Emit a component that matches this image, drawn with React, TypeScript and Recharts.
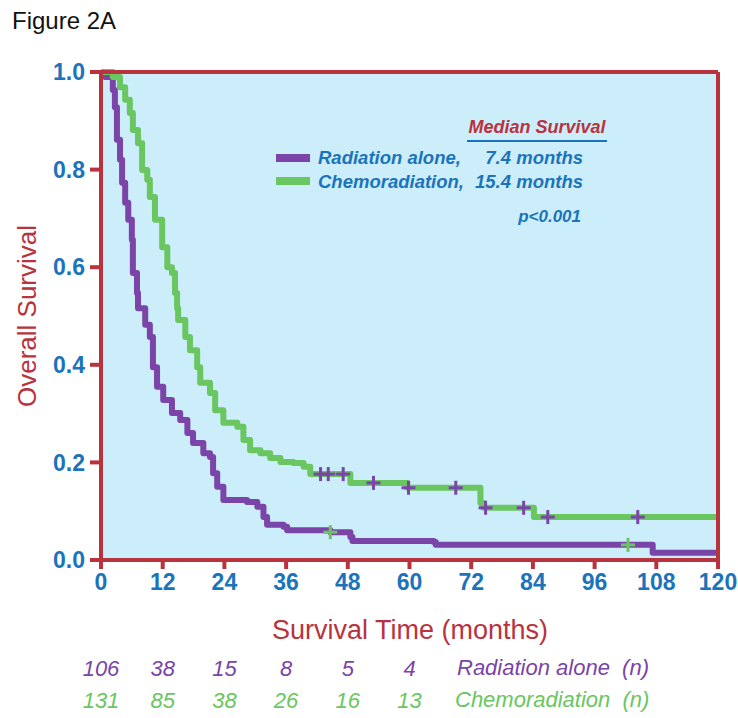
import React from "react";
import {
  CartesianGrid,
  ComposedChart,
  Line,
  ReferenceLine,
  Scatter,
  XAxis,
  YAxis,
} from "recharts";

// Kaplan-Meier curves: [months, survival]
const radiationCurve = [
  [0, 1.0], [0.8, 0.99], [2.3, 0.963], [2.7, 0.928], [3.1, 0.861], [3.7, 0.82],
  [4.1, 0.773], [4.7, 0.732], [5.3, 0.697], [6.0, 0.656], [6.2, 0.588], [7.0, 0.547],
  [7.2, 0.516], [8.6, 0.482], [9.5, 0.457], [10.1, 0.395], [10.9, 0.355], [12.1, 0.328],
  [13.8, 0.301], [15.4, 0.287], [16.8, 0.26], [17.9, 0.24], [19.9, 0.219], [21.2, 0.211],
  [21.8, 0.178], [22.6, 0.15], [23.8, 0.123], [28.4, 0.119], [30.4, 0.109], [31.6, 0.088],
  [32.3, 0.072], [35.5, 0.068], [36.2, 0.061], [44.6, 0.057], [48.5, 0.047], [48.9, 0.039],
  [64.7, 0.037], [65.1, 0.031], [107.3, 0.015], [120, 0.015],
];

const chemoCurve = [
  [0, 1.0], [2.3, 0.99], [3.7, 0.969], [4.7, 0.943], [5.6, 0.916], [6.2, 0.881],
  [7.2, 0.854], [8.0, 0.799], [9.0, 0.779], [9.5, 0.744], [10.5, 0.697], [11.9, 0.641],
  [12.9, 0.6], [13.8, 0.588], [14.4, 0.547], [14.8, 0.516], [15.0, 0.492], [16.4, 0.457],
  [17.3, 0.43], [18.7, 0.395], [19.3, 0.363], [21.2, 0.342], [22.2, 0.307], [23.8, 0.281],
  [26.5, 0.273], [27.7, 0.246], [29.0, 0.225], [31.0, 0.219], [32.9, 0.209], [34.9, 0.201],
  [37.4, 0.199], [39.4, 0.191], [40.7, 0.176], [48.5, 0.158], [59.6, 0.148], [73.8, 0.117],
  [74.4, 0.107], [84.2, 0.088], [120, 0.088],
];

// censored observations
const radiationCensored = [
  [44.6, 0.057], [102.5, 0.031],
];
const chemoCensored = [
  [42.7, 0.176], [44.2, 0.176], [47.1, 0.176], [53.0, 0.158], [59.8, 0.148],
  [69.0, 0.148], [74.8, 0.107], [82.2, 0.107], [86.9, 0.088], [104.4, 0.088],
];

// numbers at risk
const riskMonths = [0, 12, 24, 36, 48, 60];
const radiationAtRisk = [106, 38, 15, 8, 5, 4];
const chemoAtRisk = [131, 85, 38, 26, 16, 13];

const xTicks = [0, 12, 24, 36, 48, 60, 72, 84, 96, 108, 120];
const yTicks = [0, 0.2, 0.4, 0.6, 0.8, 1.0];

const RED = "#b8333d";
const BLUE = "#1b74bb";
const PURPLE = "#7a44a8";
const GREEN = "#69c660";
const BG = "#ccedfa";
const NARROW = "'Liberation Sans Narrow', 'Arial Narrow', 'Liberation Sans', sans-serif";
const SANS = "'Liberation Sans', Arial, sans-serif";

const toPoints = (rows: number[][]) => rows.map(([t, s]) => ({ t, s }));

const plus = (color: string) => (props: any) => {
  const { cx, cy } = props;
  return (
    <g stroke={color} strokeWidth={3}>
      <line x1={cx - 7} y1={cy} x2={cx + 7} y2={cy} />
      <line x1={cx} y1={cy - 7} x2={cx} y2={cy + 7} />
    </g>
  );
};

function XTick(props: any) {
  const { x, y, payload } = props;
  const i = riskMonths.indexOf(payload.value);
  return (
    <g>
      <text x={x} y={y + 19} textAnchor="middle" fill={BLUE} fontFamily={NARROW}
        fontWeight="bold" fontSize={23}>
        {payload.value}
      </text>
      {i >= 0 && (
        <>
          <text x={x} y={y + 105} textAnchor="middle" fill={PURPLE} fontFamily={SANS}
            fontStyle="italic" fontSize={22}>
            {radiationAtRisk[i]}
          </text>
          <text x={x} y={y + 137} textAnchor="middle" fill={GREEN} fontFamily={SANS}
            fontStyle="italic" fontSize={22}>
            {chemoAtRisk[i]}
          </text>
        </>
      )}
    </g>
  );
}

const abs = (style: React.CSSProperties): React.CSSProperties => ({
  position: "absolute",
  whiteSpace: "nowrap",
  lineHeight: 1,
  ...style,
});

export default function App() {
  return (
    <div style={{ position: "absolute", left: 0, top: 0, width: 738, height: 718, background: "#fff" }}>
      <ComposedChart
        width={738}
        height={718}
        margin={{ top: 72, right: 20, bottom: 0, left: 0 }}
      >
        <CartesianGrid horizontal={false} vertical={false} fill={BG} />
        <XAxis
          dataKey="t"
          type="number"
          domain={[0, 120]}
          ticks={xTicks}
          interval={0}
          height={158}
          axisLine={{ stroke: RED, strokeWidth: 4 }}
          tickLine={{ stroke: RED, strokeWidth: 4 }}
          tickSize={9}
          tick={<XTick />}
        />
        <YAxis
          type="number"
          domain={[0, 1]}
          ticks={yTicks}
          interval={0}
          width={101}
          axisLine={{ stroke: RED, strokeWidth: 4 }}
          tickLine={{ stroke: RED, strokeWidth: 4 }}
          tickSize={11}
          tickMargin={5}
          tickFormatter={(v: number) => v.toFixed(1)}
          tick={{ fill: BLUE, fontFamily: NARROW, fontWeight: "bold", fontSize: 23 }}
        />
        <Line
          data={toPoints(radiationCurve)}
          dataKey="s"
          type="stepAfter"
          stroke={PURPLE}
          strokeWidth={6}
          strokeLinejoin="round"
          dot={false}
          isAnimationActive={false}
        />
        <Line
          data={toPoints(chemoCurve)}
          dataKey="s"
          type="stepAfter"
          stroke={GREEN}
          strokeWidth={6}
          strokeLinejoin="round"
          dot={false}
          isAnimationActive={false}
        />
        <Scatter
          data={toPoints(chemoCensored)}
          dataKey="s"
          shape={plus(PURPLE)}
          isAnimationActive={false}
        />
        <Scatter
          data={toPoints(radiationCensored)}
          dataKey="s"
          shape={plus(GREEN)}
          isAnimationActive={false}
        />
        <ReferenceLine y={1} stroke={RED} strokeWidth={4} />
        <ReferenceLine x={120} stroke={RED} strokeWidth={4} />
      </ComposedChart>

      <div style={abs({ left: 12, top: 9, fontFamily: SANS, fontSize: 24, color: "#111" })}>
        Figure 2A
      </div>
      <div
        style={abs({
          left: 27,
          top: 316,
          transform: "translate(-50%, -50%) rotate(-90deg)",
          fontFamily: SANS,
          fontSize: 26,
          color: RED,
        })}
      >
        Overall Survival
      </div>
      <div style={abs({ left: 410, top: 630, transform: "translate(-50%, -50%)", fontFamily: SANS, fontSize: 27, color: RED })}>
        Survival Time (months)
      </div>
      <div style={abs({ left: 457, top: 657, fontFamily: SANS, fontStyle: "italic", fontSize: 22, color: PURPLE })}>
        Radiation alone&nbsp;&nbsp;(n)
      </div>
      <div style={abs({ left: 455, top: 689, fontFamily: SANS, fontStyle: "italic", fontSize: 22, color: GREEN })}>
        Chemoradiation&nbsp;&nbsp;(n)
      </div>

      {/* legend */}
      <div
        style={abs({
          left: 467,
          top: 118,
          width: 140,
          paddingBottom: 4,
          borderBottom: `2px solid ${BLUE}`,
          textAlign: "center",
          fontFamily: SANS,
          fontWeight: "bold",
          fontStyle: "italic",
          fontSize: 18,
          color: RED,
        })}
      >
        Median Survival
      </div>
      <div style={abs({ left: 276, top: 154, width: 34, height: 8, background: PURPLE })} />
      <div style={abs({ left: 276, top: 177, width: 34, height: 8, background: GREEN })} />
      {[
        ["Radiation alone,", "7.4 months", 149],
        ["Chemoradiation,", "15.4 months", 173],
      ].map(([name, median, top]) => (
        <React.Fragment key={name as string}>
          <div style={abs({ left: 318, top: top as number, fontFamily: SANS, fontWeight: "bold", fontStyle: "italic", fontSize: 18.5, color: BLUE })}>
            {name}
          </div>
          <div style={abs({ right: 738 - 583, top: top as number, fontFamily: SANS, fontWeight: "bold", fontStyle: "italic", fontSize: 18.5, color: BLUE })}>
            {median}
          </div>
        </React.Fragment>
      ))}
      <div style={abs({ right: 738 - 581, top: 208, fontFamily: SANS, fontWeight: "bold", fontStyle: "italic", fontSize: 17, color: BLUE })}>
        p&lt;0.001
      </div>
    </div>
  );
}
